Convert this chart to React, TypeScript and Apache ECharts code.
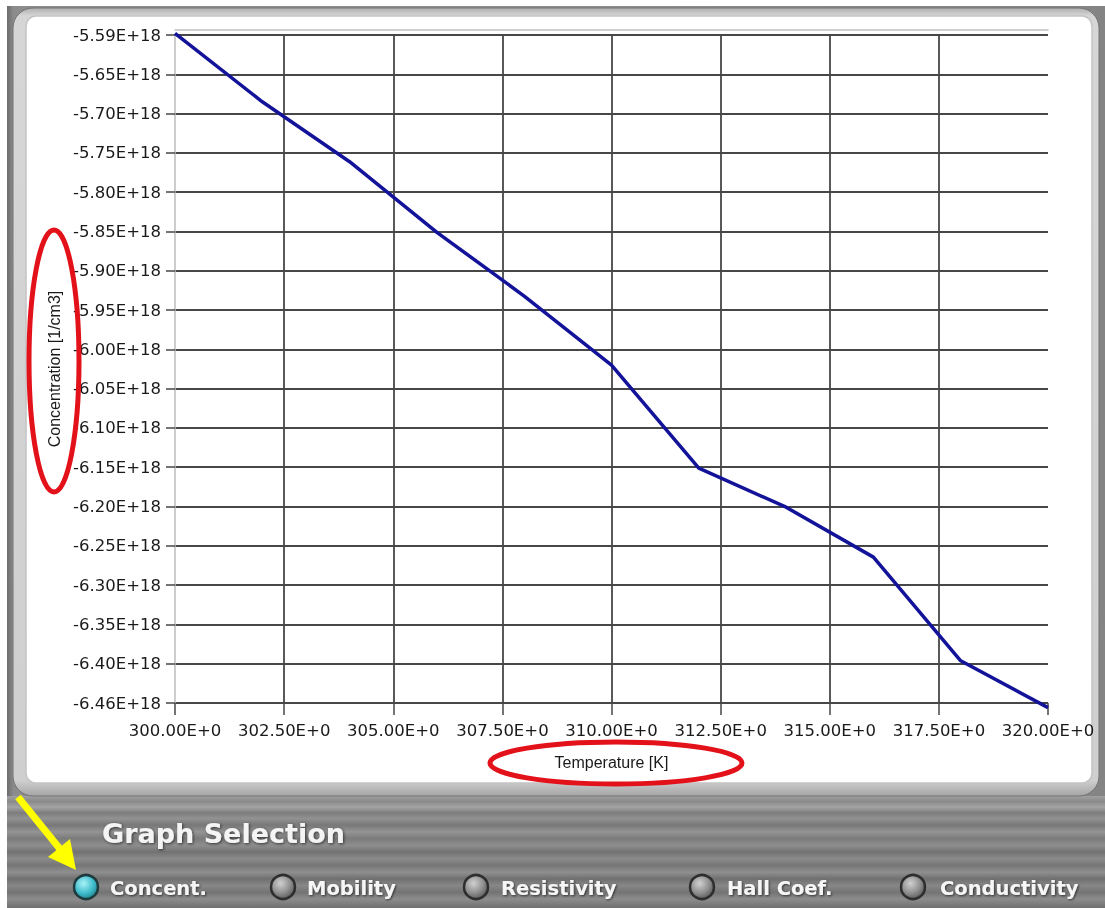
import { useEffect, useRef } from "react";
import * as echarts from "echarts";

// ---- data ----
const temperatureK = [300, 302, 304, 306, 308, 310, 312, 314, 316, 318, 320];
const concentrationE18 = [-5.588, -5.677, -5.755, -5.847, -5.93, -6.02, -6.154, -6.205, -6.27, -6.405, -6.466];

// y tick labels, top to bottom (evenly spaced in the reference)
const yTickLabels = [
  "-5.59E+18", "-5.65E+18", "-5.70E+18", "-5.75E+18", "-5.80E+18", "-5.85E+18",
  "-5.90E+18", "-5.95E+18", "-6.00E+18", "-6.05E+18", "-6.10E+18", "-6.15E+18",
  "-6.20E+18", "-6.25E+18", "-6.30E+18", "-6.35E+18", "-6.40E+18", "-6.46E+18",
];
const yMaxE18 = -5.59;
const yMinE18 = -6.46;
const xMin = 300;
const xMax = 320;
const xStep = 2.5;

const selectorLabels = ["Concent.", "Mobility", "Resistivity", "Hall Coef.", "Conductivity"];
const selectedIndex = 0;

// ---- layout (decoration) ----
const selectorCircleX = [86, 283, 476, 702, 913];
const selectorLabelX = [110, 307, 501, 727, 940];

function buildOption() {
  const nIntervals = yTickLabels.length - 1;
  const seriesData = temperatureK.map((t, i) => [t, concentrationE18[i]]);

  const metalStops = [
    { offset: 0, color: "#a0a0a0" },
    { offset: 0.05, color: "#8a8a8a" },
    { offset: 0.1, color: "#a3a3a3" },
    { offset: 0.15, color: "#7c7c7c" },
    { offset: 0.2, color: "#929292" },
    { offset: 0.26, color: "#787878" },
    { offset: 0.32, color: "#949494" },
    { offset: 0.38, color: "#7b7b7b" },
    { offset: 0.44, color: "#8e8e8e" },
    { offset: 0.5, color: "#727272" },
    { offset: 0.56, color: "#8a8a8a" },
    { offset: 0.62, color: "#767676" },
    { offset: 0.68, color: "#8f8f8f" },
    { offset: 0.74, color: "#707070" },
    { offset: 0.8, color: "#878787" },
    { offset: 0.86, color: "#747474" },
    { offset: 0.92, color: "#8c8c8c" },
    { offset: 1, color: "#707070" },
  ];

  const graphics: any[] = [
    { type: "rect", z: -20, shape: { x: 0, y: 0, width: 1105, height: 908 }, style: { fill: "#ffffff" } },
    {
      type: "rect", z: -19, shape: { x: 7, y: 6, width: 1098, height: 902 },
      style: { fill: new echarts.graphic.LinearGradient(0, 0, 1, 0, [
        { offset: 0, color: "#6c6c6c" }, { offset: 0.006, color: "#8c8c8c" },
        { offset: 0.5, color: "#8e8e8e" }, { offset: 1, color: "#848484" },
      ]) },
    },
    {
      type: "rect", z: -18, shape: { x: 7, y: 796, width: 1098, height: 112 },
      style: { fill: new echarts.graphic.LinearGradient(0, 0, 0, 1, metalStops) },
    },
    {
      type: "rect", z: -17, shape: { x: 13, y: 8, width: 1086, height: 788, r: 20 },
      style: {
        fill: new echarts.graphic.LinearGradient(0, 0, 0, 1, [
          { offset: 0, color: "#b0b0b0" }, { offset: 0.01, color: "#d6d6d6" },
          { offset: 0.98, color: "#cfcfcf" }, { offset: 1, color: "#a5a5a5" },
        ]),
        stroke: "#747474", lineWidth: 1,
      },
    },
    {
      type: "rect", z: -16, shape: { x: 26, y: 16, width: 1066, height: 767, r: 10 },
      style: { fill: "#ffffff", stroke: "#c4c4c4", lineWidth: 1.5 },
    },
    {
      type: "text", z: 10,
      style: {
        text: "Graph Selection", x: 102, y: 833, font: 'bold 27px "DejaVu Sans"',
        fill: "#f4f4f4", textVerticalAlign: "middle", textAlign: "left",
        textShadowColor: "rgba(0,0,0,0.6)", textShadowBlur: 3, textShadowOffsetX: 1, textShadowOffsetY: 1,
      },
    },
  ];

  selectorLabels.forEach((label, i) => {
    const sel = i === selectedIndex;
    graphics.push({
      type: "circle", z: 10,
      shape: { cx: selectorCircleX[i], cy: 887, r: 12 },
      style: {
        fill: new echarts.graphic.RadialGradient(0.4, 0.35, 0.7, sel
          ? [{ offset: 0, color: "#a8f2f8" }, { offset: 0.6, color: "#3fbccb" }, { offset: 1, color: "#1d7f8b" }]
          : [{ offset: 0, color: "#d0d0d0" }, { offset: 0.6, color: "#8c8c8c" }, { offset: 1, color: "#555555" }]),
        stroke: sel ? "#1f3b3e" : "#2e2e2e", lineWidth: 2.5,
      },
    });
    graphics.push({
      type: "text", z: 10,
      style: {
        text: label, x: selectorLabelX[i], y: 888, font: 'bold 19.5px "DejaVu Sans"',
        fill: "#f6f6f6", textVerticalAlign: "middle", textAlign: "left",
        textShadowColor: "rgba(0,0,0,0.6)", textShadowBlur: 2, textShadowOffsetX: 1, textShadowOffsetY: 1,
      },
    });
  });

  // annotations
  graphics.push(
    { type: "ellipse", z: 100, shape: { cx: 54, cy: 361, rx: 25, ry: 131 }, style: { fill: "none", stroke: "#e3121a", lineWidth: 5 } },
    { type: "ellipse", z: 100, shape: { cx: 616, cy: 763, rx: 126, ry: 21 }, style: { fill: "none", stroke: "#e3121a", lineWidth: 5 } },
    { type: "line", z: 100, shape: { x1: 18, y1: 797, x2: 60, y2: 849 }, style: { stroke: "#ffff00", lineWidth: 7 } },
    { type: "polygon", z: 100, shape: { points: [[76, 870], [48, 857], [70, 839]] }, style: { fill: "#ffff00" } },
  );

  const font = '"DejaVu Sans", sans-serif';
  const gridColor = "#474747";

  return {
    animation: false,
    backgroundColor: "transparent",
    graphic: { elements: graphics },
    grid: { left: 175, right: 57, top: 35, bottom: 205, containLabel: false },
    xAxis: [
      {
        type: "value", min: xMin, max: xMax, interval: xStep,
        name: "Temperature [K]", nameLocation: "middle", nameGap: 51,
        nameTextStyle: { fontFamily: '"Liberation Sans", Arial, sans-serif', fontSize: 16, color: "#1a1a1a" },
        axisLine: { show: false },
        axisTick: { show: true, length: 12, lineStyle: { color: gridColor, width: 1.5 } },
        axisLabel: {
          margin: 19, fontFamily: font, fontSize: 16.5, color: "#1a1a1a",
          formatter: (v: number) => v.toFixed(2) + "E+0",
        },
        splitLine: { show: true, showMinLine: false, showMaxLine: false, lineStyle: { color: gridColor, width: 1.8 } },
      },
      {
        type: "value", min: xMin, max: xMax, position: "top", offset: 5,
        axisLine: { show: true, lineStyle: { color: "#c2c2c2", width: 1.5 } },
        axisTick: { show: false }, axisLabel: { show: false }, splitLine: { show: false },
      },
    ],
    yAxis: [
      { type: "value", min: yMinE18, max: yMaxE18, show: false, splitLine: { show: false } },
      {
        type: "value", min: 0, max: nIntervals, interval: 1, position: "left",
        name: "Concentration [1/cm3]", nameLocation: "middle", nameGap: 113, nameRotate: 90,
        nameTextStyle: { fontFamily: '"Liberation Sans", Arial, sans-serif', fontSize: 16, color: "#1a1a1a" },
        axisLine: { show: true, lineStyle: { color: "#bdbdbd", width: 1.5 } },
        axisTick: { show: true, length: 9, lineStyle: { color: gridColor, width: 1.5 } },
        axisLabel: {
          margin: 14, fontFamily: font, fontSize: 16.5, color: "#1a1a1a",
          formatter: (v: number) => {
            const i = Math.round(v);
            if (Math.abs(v - i) > 1e-6) return "";
            return yTickLabels[nIntervals - i] ?? "";
          },
        },
        splitLine: { show: true, lineStyle: { color: gridColor, width: 1.8 } },
      },
    ],
    series: [
      {
        type: "line", xAxisIndex: 0, yAxisIndex: 0, data: seriesData,
        showSymbol: false, clip: false, z: 5,
        lineStyle: { color: "#13139a", width: 3.5 },
      },
    ],
  };
}

export default function App() {
  const ref = useRef<HTMLDivElement>(null);
  useEffect(() => {
    if (!ref.current) return;
    const chart = echarts.init(ref.current, null, { renderer: "svg" });
    chart.setOption(buildOption() as any);
    return () => chart.dispose();
  }, []);
  return <div ref={ref} style={{ position: "fixed", left: 0, top: 0, width: 1105, height: 908 }} />;
}
